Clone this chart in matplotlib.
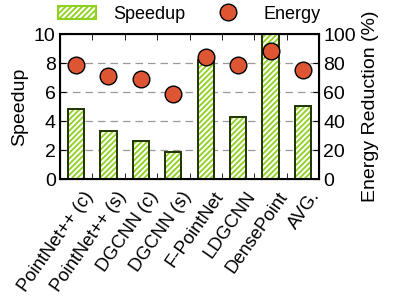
import matplotlib
matplotlib.use("Agg")
import matplotlib.pyplot as plt
import matplotlib.transforms as mtransforms
from matplotlib.patches import Patch
from matplotlib.lines import Line2D
import numpy as np

plt.rcParams['font.family'] = ['Liberation Sans', 'DejaVu Sans']
plt.rcParams['hatch.linewidth'] = 1.3

categories = ["PointNet++ (c)", "PointNet++ (s)", "DGCNN (c)", "DGCNN (s)",
              "F-PointNet", "LDGCNN", "DensePoint", "AVG."]
speedup = [4.85, 3.3, 2.65, 1.9, 8.2, 4.3, 10.8, 5.05]
energy = [79, 71, 69, 59, 84, 78.5, 88.5, 75.5]

green = '#8fd11e'
dark = '#1f3300'

fig = plt.figure(figsize=(3.99, 2.99), dpi=100)
ax = fig.add_axes([0.150, 0.401, 0.650, 0.485])
x = np.arange(len(categories))

ax.bar(x, speedup, width=0.5, color='white', edgecolor=green, linewidth=0,
       hatch='//////', zorder=2)
ax.bar(x, speedup, width=0.5, color='none', edgecolor=dark, linewidth=1.4, zorder=2.1)
ax.set_ylim(0, 10)
ax.set_xlim(-0.5, len(categories) - 0.5)
ax.set_yticks([0, 2, 4, 6, 8, 10])
for yv in [2, 4, 6, 8]:
    ax.axhline(yv, color='#999999', linestyle=(0, (6, 4)), linewidth=0.9, zorder=1)
ax.set_xticks(x)
ax.set_xticklabels([])
ax.tick_params(axis='x', which='major', length=0)
ax.set_xticks(x[:-1] + 0.5, minor=True)
ax.tick_params(axis='x', which='minor', direction='in', length=4, top=True, bottom=True)

base = mtransforms.blended_transform_factory(ax.transData, ax.transAxes)
offset = mtransforms.ScaledTranslation(14 / 100, -14 / 100, fig.dpi_scale_trans)
for xi, lab in zip(x, categories):
    ax.text(xi, 0, lab, transform=base + offset, rotation=55, ha='right', va='center',
            rotation_mode='anchor', fontsize=13.2, clip_on=False)

ax.tick_params(axis='y', direction='in', labelsize=14, length=4, pad=3)
ax.set_ylabel('Speedup', fontsize=14, labelpad=4)
for s in ax.spines.values():
    s.set_linewidth(1.5)

ax2 = ax.twinx()
ax2.plot(x, energy, 'o', markersize=12, markerfacecolor='#dd5533', markeredgecolor='black',
         markeredgewidth=1.0, zorder=3, clip_on=False)
ax2.set_ylim(0, 100)
ax2.set_yticks([0, 20, 40, 60, 80, 100])
ax2.tick_params(axis='y', direction='in', labelsize=14, length=4, pad=3)
ax2.set_ylabel('Energy Reduction (%)', fontsize=14, labelpad=4)

handles = [Patch(facecolor='white', edgecolor=green, hatch='//////', linewidth=1.5),
           Line2D([], [], linestyle='none', marker='o', markersize=12,
                  markerfacecolor='#dd5533', markeredgecolor='black', markeredgewidth=1.0)]
fig.legend(handles, ['Speedup', 'Energy'], loc='center', bbox_to_anchor=(0.475, 0.953), ncol=2,
           frameon=False, fontsize=13, handlelength=2.1, handleheight=0.7,
           handletextpad=0.95, columnspacing=1.3)

fig.savefig('out.png', dpi=100)
